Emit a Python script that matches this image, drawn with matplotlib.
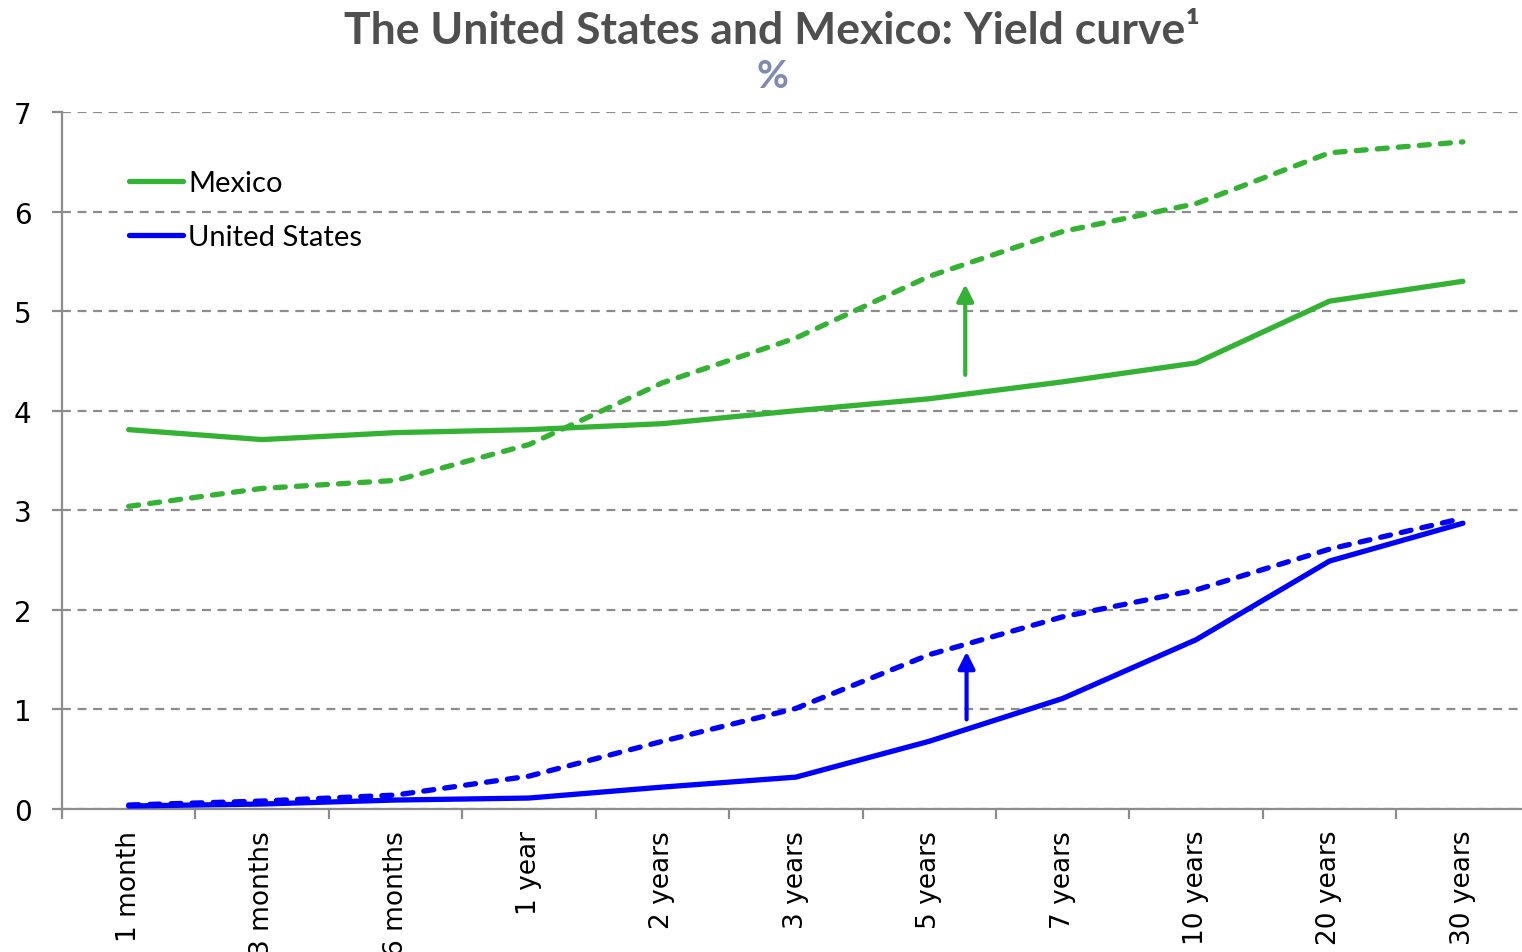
import matplotlib
matplotlib.use("Agg")
import matplotlib.pyplot as plt
import numpy as np

categories = ["1 month", "3 months", "6 months", "1 year", "2 years", "3 years",
              "5 years", "7 years", "10 years", "20 years", "30 years"]
mexico_before = [3.81, 3.71, 3.78, 3.81, 3.87, 4.00, 4.12, 4.29, 4.48, 5.10, 5.30]
mexico_after = [3.04, 3.22, 3.30, 3.66, 4.28, 4.73, 5.35, 5.80, 6.08, 6.59, 6.70]
us_before = [0.03, 0.05, 0.09, 0.11, 0.22, 0.32, 0.68, 1.11, 1.70, 2.49, 2.87]
us_after = [0.04, 0.08, 0.14, 0.33, 0.68, 1.01, 1.55, 1.93, 2.20, 2.61, 2.92]
# arrows: (x position in category units, start, end)
mexico_arrow = (6.27, 4.36, 5.27)
us_arrow = (6.28, 0.90, 1.58)

GREEN = "#33B233"
BLUE = "#0000FF"
GRID = "#8C8C8C"

W, H = 1522, 953
fig = plt.figure(figsize=(W / 100, H / 100), dpi=100)
ax = fig.add_axes([62 / W, (H - 810) / H, (1529.6 - 62) / W, (810 - 113) / H])

LW = 3.8
DASH = (0, (1.9, 2.1))
x = np.arange(len(categories))
ax.plot(x, mexico_before, color=GREEN, lw=LW, solid_capstyle="round", label="Mexico", zorder=3)
ax.plot(x, mexico_after, color=GREEN, lw=LW, ls=DASH, dash_capstyle="round", zorder=3)
ax.plot(x, us_before, color=BLUE, lw=LW, solid_capstyle="round", label="United States", zorder=3)
ax.plot(x, us_after, color=BLUE, lw=LW, ls=DASH, dash_capstyle="round", zorder=3)

for (ax_x, y0, y1), c in [(mexico_arrow, GREEN), (us_arrow, BLUE)]:
    ax.annotate("", xy=(ax_x, y1), xytext=(ax_x, y0),
                arrowprops=dict(arrowstyle="-|>,head_length=1.0,head_width=0.5",
                                color=c, lw=3.0, shrinkA=0, shrinkB=0), zorder=4)

ax.set_xlim(-0.5, len(categories) - 0.5)
ax.set_ylim(0, 7)
ax.set_yticks(range(0, 8))
ax.yaxis.grid(True, color=GRID, ls=(0, (4, 3)), lw=1.6)
ax.set_axisbelow(True)

for s in ["top", "right"]:
    ax.spines[s].set_visible(False)
for s in ["left", "bottom"]:
    ax.spines[s].set_color(GRID)
    ax.spines[s].set_linewidth(1.6)

ax.set_xticks(x)
ax.set_xticklabels(categories, rotation=90, fontsize=19, family="DejaVu Sans", va="top")
ax.set_xticks(np.arange(-0.5, len(categories), 1.0), minor=True)
ax.tick_params(axis="x", which="major", length=0, pad=15)
ax.tick_params(axis="x", which="minor", length=7, width=1.6, color=GRID, direction="out")
ax.tick_params(axis="y", length=7, width=1.6, color=GRID, pad=15, labelsize=20)

leg = ax.legend(loc="upper left", bbox_to_anchor=(129 / W, (H - 171) / H),
                bbox_transform=fig.transFigure, frameon=False,
                prop={"family": "Lato", "size": 21}, handlelength=1.85,
                handletextpad=0.17, labelspacing=0.97, borderpad=0, borderaxespad=0)
for line in leg.get_lines():
    line.set_linewidth(LW)

fig.text(772 / W, 1 - 31 / H, "The United States and Mexico: Yield curve\u00b9",
         ha="center", va="center", fontsize=32, fontweight="bold", family="Lato",
         color="#4F4F4F")
fig.text(772 / W, 1 - 76 / H, "%", ha="center", va="center", fontsize=28,
         fontweight="bold", family="Lato", color="#7F8AAE")

fig.savefig("out.png", dpi=100)
